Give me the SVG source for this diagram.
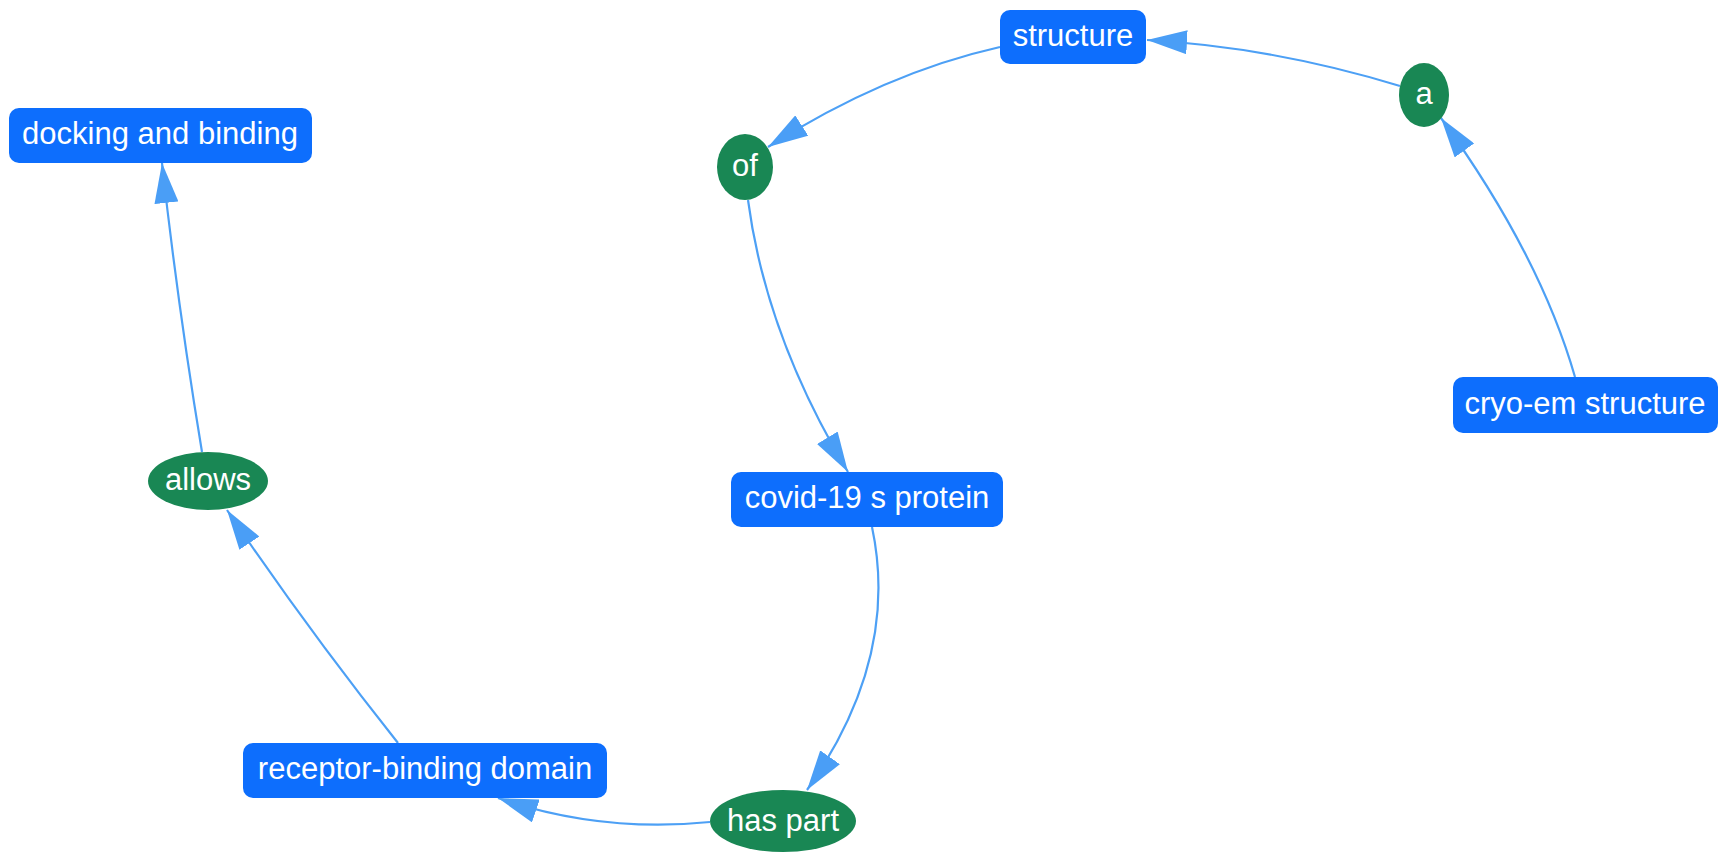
<svg xmlns="http://www.w3.org/2000/svg" width="1719" height="853" viewBox="0 0 1719 853">
  <style>
    .box { fill: #0d6efd; }
    .oval { fill: #198754; }
    .label { font-family: "Liberation Sans", Arial, sans-serif; font-size: 31px; fill: #ffffff; text-anchor: middle; }
    .edge { fill: none; stroke: #4da0f5; stroke-width: 2.2; marker-end: url(#arrow); }
  </style>
  <defs>
    <marker id="arrow" markerUnits="userSpaceOnUse" markerWidth="40" markerHeight="24" refX="40" refY="12" orient="auto">
      <path d="M0,0 L40,12 L0,24 Z" fill="#4a9ef6"/>
    </marker>
  </defs>
  <rect width="1719" height="853" fill="#ffffff"/>

  <!-- connectors -->
  <g id="edges">
    <path class="edge" d="M1575,377 Q1540,255 1441,118"/>
    <path class="edge" d="M1400,86 Q1272,47 1147,40"/>
    <path class="edge" d="M1000,47 Q884,73 768,147"/>
    <path class="edge" d="M748,200 Q766,336 848,472"/>
    <path class="edge" d="M872,527 Q900,658 807,790"/>
    <path class="edge" d="M710,822 Q600,833 498,798"/>
    <path class="edge" d="M398,743 Q308,630 227,510"/>
    <path class="edge" d="M202,452 Q178,307 162,163"/>
  </g>

  <!-- nodes -->
  <g id="node-structure">
    <rect class="box" x="1000" y="10" width="146" height="54" rx="10"/>
    <text class="label" x="1073" y="46">structure</text>
  </g>
  <g id="node-a">
    <ellipse class="oval" cx="1424" cy="95" rx="25" ry="32"/>
    <text class="label" x="1424" y="104">a</text>
  </g>
  <g id="node-docking-and-binding">
    <rect class="box" x="9" y="108" width="303" height="55" rx="10"/>
    <text class="label" x="160" y="144">docking and binding</text>
  </g>
  <g id="node-of">
    <ellipse class="oval" cx="745" cy="167" rx="28" ry="33"/>
    <text class="label" x="745" y="176">of</text>
  </g>
  <g id="node-cryo-em-structure">
    <rect class="box" x="1453" y="377" width="265" height="56" rx="10"/>
    <text class="label" x="1585" y="414">cryo-em structure</text>
  </g>
  <g id="node-allows">
    <ellipse class="oval" cx="208" cy="481" rx="60" ry="29"/>
    <text class="label" x="208" y="490">allows</text>
  </g>
  <g id="node-covid-19-s-protein">
    <rect class="box" x="731" y="472" width="272" height="55" rx="10"/>
    <text class="label" x="867" y="508">covid-19 s protein</text>
  </g>
  <g id="node-receptor-binding-domain">
    <rect class="box" x="243" y="743" width="364" height="55" rx="10"/>
    <text class="label" x="425" y="779">receptor-binding domain</text>
  </g>
  <g id="node-has-part">
    <ellipse class="oval" cx="783" cy="821" rx="73" ry="31"/>
    <text class="label" x="783" y="831">has part</text>
  </g>
</svg>
